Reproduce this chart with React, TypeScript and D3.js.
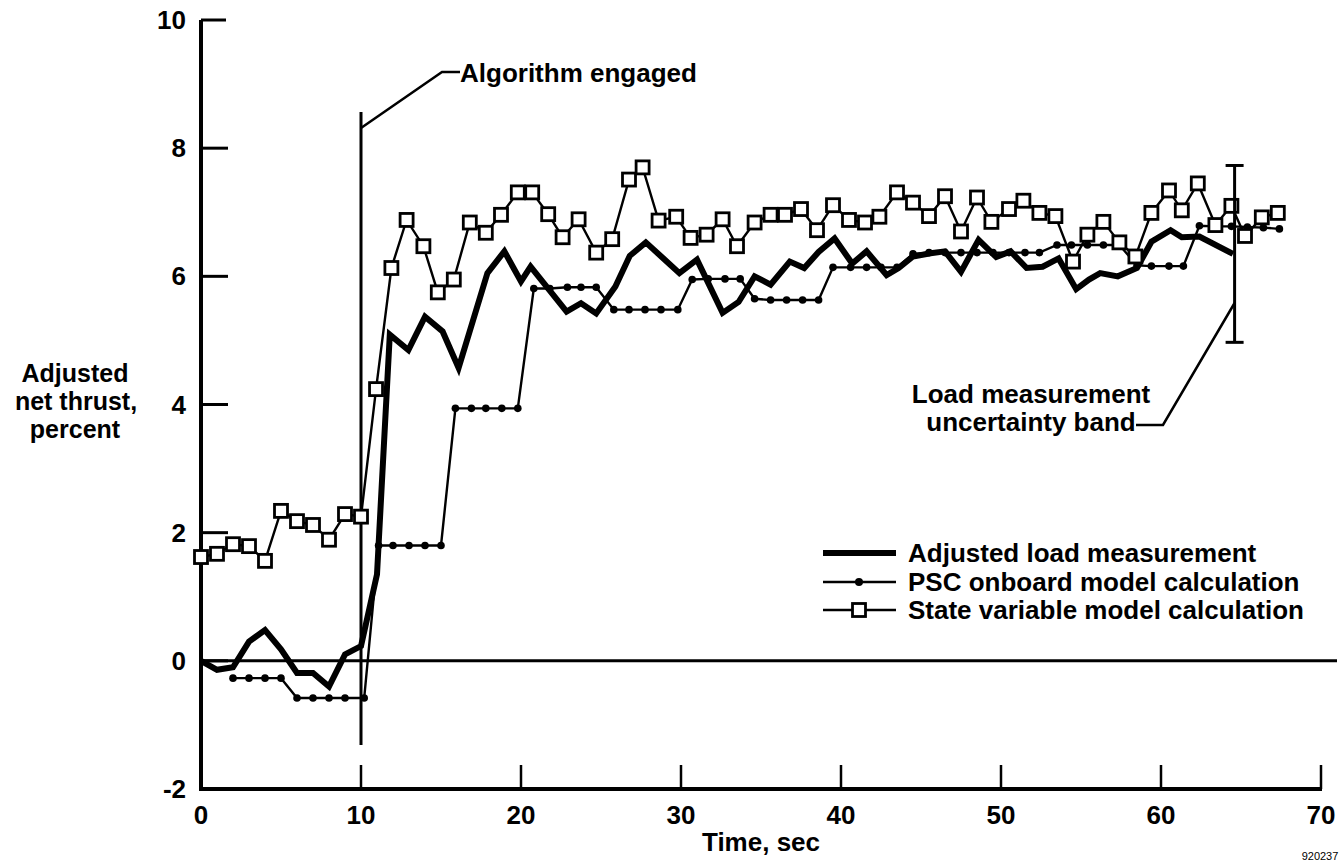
import React from "react";
import * as d3 from "d3";

// ---- data ----
const loadT = [0, 1, 2, 3, 4, 5, 6, 7, 8, 9, 10, 11, 11.8, 12.96, 14, 15.1, 16.1, 17.9, 18.96, 20.0, 20.6, 22.85, 23.75, 24.7, 25.9, 26.8, 27.8, 28.85, 29.9, 31, 32.6, 33.6, 34.6, 35.6, 36.8, 37.7, 38.6, 39.6, 40.7, 41.6, 42.85, 43.6, 44.5, 45.6, 46.5, 47.5, 48.6, 49.7, 50.6, 51.6, 52.6, 53.6, 54.7, 55.5, 56.2, 57.3, 58.5, 59.4, 60.6, 61.3, 62.4, 64.5];
const loadV = [0.0, -0.14, -0.1, 0.3, 0.48, 0.18, -0.19, -0.19, -0.4, 0.1, 0.23, 1.35, 5.09, 4.85, 5.37, 5.14, 4.57, 6.05, 6.39, 5.92, 6.15, 5.45, 5.58, 5.42, 5.84, 6.32, 6.53, 6.29, 6.05, 6.26, 5.43, 5.6, 6.0, 5.87, 6.23, 6.13, 6.38, 6.59, 6.2, 6.39, 6.02, 6.13, 6.31, 6.36, 6.39, 6.07, 6.57, 6.3, 6.39, 6.13, 6.15, 6.28, 5.8, 5.95, 6.05, 6.0, 6.13, 6.54, 6.72, 6.61, 6.62, 6.35];

const pscT = [2, 3, 4, 5, 6, 7, 8, 9, 10.2, 11.1, 12, 13, 14, 15, 15.9, 16.9, 17.8, 18.8, 19.8, 20.8, 21.8, 22.9, 23.75, 24.7, 25.8, 26.75, 27.75, 28.75, 29.8, 30.7, 31.7, 32.75, 33.7, 34.6, 35.6, 36.6, 37.6, 38.6, 39.5, 40.6, 41.6, 42.5, 43.5, 44.5, 45.5, 46.5, 47.5, 48.5, 49.5, 50.5, 51.5, 52.4, 53.5, 54.4, 55.4, 56.4, 57.4, 58.5, 59.4, 60.5, 61.4, 62.4, 63.4, 64.4, 65.4, 66.4, 67.4];
const pscV = [-0.27, -0.27, -0.27, -0.27, -0.58, -0.58, -0.58, -0.58, -0.58, 1.8, 1.8, 1.8, 1.8, 1.8, 3.94, 3.94, 3.94, 3.94, 3.94, 5.81, 5.81, 5.83, 5.83, 5.83, 5.48, 5.48, 5.48, 5.48, 5.48, 5.95, 5.96, 5.96, 5.96, 5.65, 5.63, 5.63, 5.63, 5.63, 6.14, 6.14, 6.14, 6.14, 6.14, 6.35, 6.37, 6.37, 6.37, 6.37, 6.37, 6.37, 6.37, 6.37, 6.49, 6.49, 6.49, 6.49, 6.49, 6.17, 6.16, 6.16, 6.16, 6.79, 6.78, 6.78, 6.77, 6.76, 6.74];

const svT = [0, 1, 2, 3, 4, 5, 6, 7, 8, 9, 10, 10.94, 11.9, 12.85, 13.9, 14.8, 15.8, 16.8, 17.8, 18.75, 19.8, 20.7, 21.7, 22.6, 23.6, 24.7, 25.7, 26.75, 27.6, 28.6, 29.7, 30.6, 31.6, 32.6, 33.5, 34.6, 35.6, 36.5, 37.5, 38.5, 39.5, 40.5, 41.5, 42.4, 43.5, 44.5, 45.5, 46.5, 47.5, 48.5, 49.4, 50.5, 51.4, 52.4, 53.4, 54.5, 55.4, 56.4, 57.4, 58.4, 59.4, 60.5, 61.3, 62.3, 63.4, 64.4, 65.25, 66.3, 67.3];
const svV = [1.62, 1.67, 1.82, 1.79, 1.56, 2.34, 2.18, 2.12, 1.89, 2.29, 2.25, 4.24, 6.13, 6.88, 6.47, 5.75, 5.95, 6.84, 6.68, 6.96, 7.31, 7.31, 6.97, 6.61, 6.89, 6.37, 6.58, 7.51, 7.7, 6.87, 6.93, 6.6, 6.65, 6.89, 6.47, 6.84, 6.96, 6.96, 7.05, 6.72, 7.11, 6.88, 6.84, 6.93, 7.31, 7.15, 6.94, 7.25, 6.7, 7.23, 6.85, 7.05, 7.18, 6.99, 6.94, 6.23, 6.65, 6.85, 6.53, 6.31, 6.99, 7.34, 7.03, 7.45, 6.8, 7.1, 6.63, 6.92, 6.99];

const xTicks = [0, 10, 20, 30, 40, 50, 60, 70];
const yTicks = [-2, 0, 2, 4, 6, 8, 10];
const engagedT = 10;
const bandT = 64.6;
const bandLo = 4.97;
const bandHi = 7.73;

const legendItems = [
  "Adjusted load measurement",
  "PSC onboard model calculation",
  "State variable model calculation",
];

const FONT = "'Liberation Sans', Arial, Helvetica, sans-serif";

export default function App() {
  const W = 1343, H = 863;
  const x = d3.scaleLinear().domain([0, 70]).range([201, 1321]);
  const y = d3.scaleLinear().domain([-2, 10]).range([789, 20]);
  const line = d3.line<[number, number]>().x(d => x(d[0])).y(d => y(d[1]));
  const loadPts = loadT.map((t, i) => [t, loadV[i]] as [number, number]);
  const pscPts = pscT.map((t, i) => [t, pscV[i]] as [number, number]);
  const svPts = svT.map((t, i) => [t, svV[i]] as [number, number]);
  const sq = 13;
  const txt = { fontFamily: FONT, fontWeight: 700, fontSize: 26, fill: "#000" } as const;

  const lx0 = 823, lx1 = 896, lxm = 859;
  const rows = [553, 582, 610];

  return (
    <svg width={W} height={H} style={{ position: "absolute", left: 0, top: 0, background: "#fff" }}>
      <rect x={0} y={0} width={W} height={H} fill="#fff" />
      {/* axes */}
      <line x1={x(0)} y1={y(10)} x2={x(0)} y2={y(-2) + 2} stroke="#000" strokeWidth={4} />
      <line x1={x(0) - 2} y1={y(-2)} x2={x(70) + 1} y2={y(-2)} stroke="#000" strokeWidth={4} />
      {yTicks.filter(v => v > -2).map(v => (
        <line key={"yt" + v} x1={x(0)} x2={x(0) + (v === 10 ? 25 : 27)} y1={y(v)} y2={y(v)} stroke="#000" strokeWidth={3} />
      ))}
      {xTicks.filter(t => t > 0).map(t => (
        <line key={"xt" + t} x1={x(t)} x2={x(t)} y1={y(-2)} y2={y(-2) - 24} stroke="#000" strokeWidth={2.5} />
      ))}
      {yTicks.map(v => (
        <text key={"yl" + v} x={186} y={y(v) + 9} textAnchor="end" {...txt}>{v}</text>
      ))}
      {xTicks.map(t => (
        <text key={"xl" + t} x={x(t)} y={824} textAnchor="middle" {...txt}>{t}</text>
      ))}
      <text x={(x(0) + x(70)) / 2} y={851} textAnchor="middle" {...txt}>Time, sec</text>
      <text textAnchor="middle" {...txt} fontSize={25}>
        <tspan x={75} y={382}>Adjusted</tspan>
        <tspan x={76} y={410}>net thrust,</tspan>
        <tspan x={75} y={438}>percent</tspan>
      </text>
      <text x={1320} y={860} textAnchor="middle" fontFamily={FONT} fontSize={11}>920237</text>

      {/* zero line */}
      <line x1={x(0)} x2={1337} y1={y(0)} y2={y(0)} stroke="#000" strokeWidth={3} />

      {/* algorithm engaged marker */}
      <line x1={x(engagedT)} x2={x(engagedT)} y1={112} y2={745} stroke="#000" strokeWidth={3} />
      <polyline points={`${x(engagedT)},128 442,72 460,72`} fill="none" stroke="#000" strokeWidth={2.5} />
      <text x={460} y={82} {...txt}>Algorithm engaged</text>

      {/* PSC */}
      <path d={line(pscPts) || ""} fill="none" stroke="#000" strokeWidth={2.4} />
      {pscPts.map((p, i) => (
        <circle key={"pd" + i} cx={x(p[0])} cy={y(p[1])} r={3.8} fill="#000" />
      ))}
      {/* load */}
      <path d={line(loadPts) || ""} fill="none" stroke="#000" strokeWidth={6} strokeLinejoin="miter" strokeMiterlimit={3} />
      {/* state variable */}
      <path d={line(svPts) || ""} fill="none" stroke="#000" strokeWidth={2.4} />
      {svPts.map((p, i) => (
        <rect key={"sv" + i} x={x(p[0]) - sq / 2} y={y(p[1]) - sq / 2} width={sq} height={sq} fill="#fff" stroke="#000" strokeWidth={2.8} />
      ))}

      {/* uncertainty band */}
      <line x1={x(bandT)} x2={x(bandT)} y1={y(bandHi)} y2={y(bandLo)} stroke="#000" strokeWidth={3} />
      <line x1={x(bandT) - 9} x2={x(bandT) + 9} y1={y(bandHi)} y2={y(bandHi)} stroke="#000" strokeWidth={3} />
      <line x1={x(bandT) - 9} x2={x(bandT) + 9} y1={y(bandLo)} y2={y(bandLo)} stroke="#000" strokeWidth={3} />
      <polyline points={`1136,425 1163,425 ${x(bandT)},303`} fill="none" stroke="#000" strokeWidth={2.5} />
      <text textAnchor="middle" {...txt}>
        <tspan x={1031} y={403}>Load measurement</tspan>
        <tspan x={1031} y={431}>uncertainty band</tspan>
      </text>

      {/* legend */}
      <line x1={lx0} x2={lx1} y1={rows[0]} y2={rows[0]} stroke="#000" strokeWidth={6} />
      <line x1={lx0} x2={lx1} y1={rows[1]} y2={rows[1]} stroke="#000" strokeWidth={2.4} />
      <circle cx={lxm} cy={rows[1]} r={4} fill="#000" />
      <line x1={lx0} x2={lx1} y1={rows[2]} y2={rows[2]} stroke="#000" strokeWidth={2.4} />
      <rect x={lxm - sq / 2} y={rows[2] - sq / 2} width={sq} height={sq} fill="#fff" stroke="#000" strokeWidth={2.8} />
      {legendItems.map((s, i) => (
        <text key={s} x={908} y={rows[i] + 9} {...txt}>{s}</text>
      ))}
    </svg>
  );
}
